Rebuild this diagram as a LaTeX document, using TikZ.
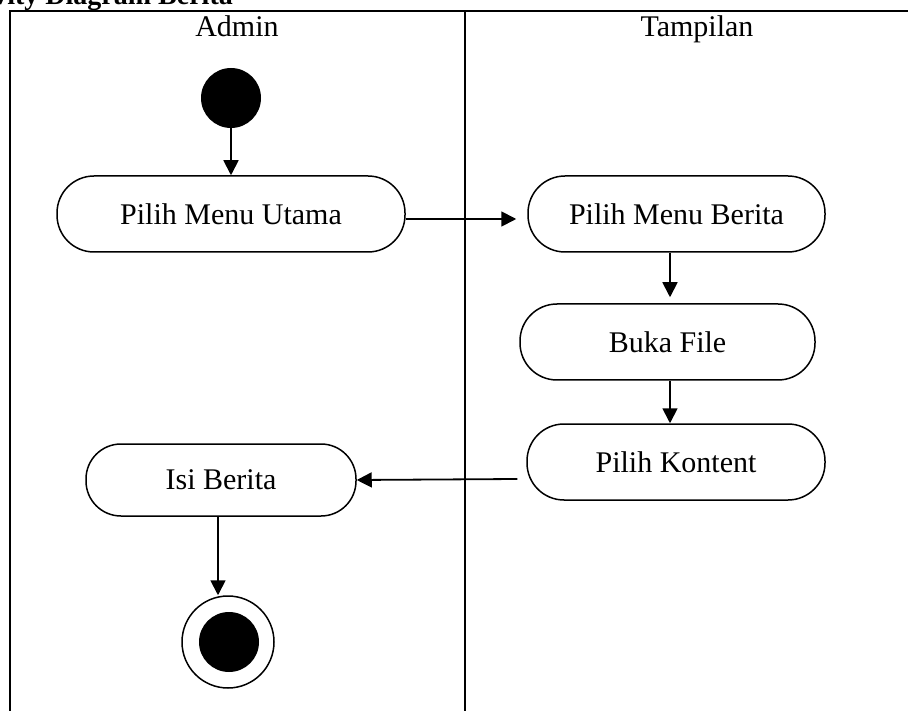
\documentclass[tikz,border=0pt]{standalone}
\usepackage{fontspec}
\setmainfont{Liberation Serif}
\usetikzlibrary{arrows.meta}
\begin{document}
\begin{tikzpicture}[x=1pt,y=-1pt,
  every node/.style={font=\fontsize{30}{36}\selectfont},
  actbox/.style={draw, line width=1.5pt, rounded corners=37pt, minimum height=76pt, inner sep=0pt},
  flow/.style={line width=1.8pt, -{Triangle[length=15pt,width=15pt]}},
  lane/.style={line width=2.2pt}]
\useasboundingbox (0,0) rectangle (908,711);
% title (cropped at the top of the picture, as in the reference)
\node[anchor=base east, inner sep=0pt, font=\fontsize{28}{34}\selectfont\bfseries] (title) at (233,5) {Activity Diagram Berita};
% swimlanes
\draw[lane] (10,711) -- (10,11) -- (908,11);
\draw[lane] (465,11) -- (465,711);
\node[anchor=base, inner sep=0pt] (admin) at (237,37) {Admin};
\node[anchor=base, inner sep=0pt] (tampilan) at (697,37) {Tampilan};
% nodes
\node[circle, fill=black, minimum size=60pt, inner sep=0pt] (start) at (231,98) {};
\node[actbox, minimum width=348pt] (pmu) at (231,214) {Pilih Menu Utama};
\node[actbox, minimum width=297pt] (pmb) at (676.5,214) {Pilih Menu Berita};
\node[actbox, minimum width=295pt] (bf) at (667.5,342) {Buka File};
\node[actbox, minimum width=298pt] (pk) at (676,462) {Pilih Kontent};
\node[actbox, minimum width=270pt, minimum height=72pt, rounded corners=35pt] (ib) at (221,480) {Isi Berita};
\node[circle, draw, line width=1.5pt, minimum size=92pt, inner sep=0pt] (end) at (228,642) {};
\node[circle, fill=black, minimum size=60pt, inner sep=0pt] (endin) at (229,642) {};
% connectors
\draw[flow] (start.south) -- (pmu.north);
\draw[flow] ([yshift=-5pt]pmu.east) -- ([xshift=-11pt,yshift=-5pt]pmb.west);
\draw[flow] ([xshift=-6.5pt]pmb.south) -- ([xshift=2.5pt,yshift=6pt]bf.north);
\draw[flow] ([xshift=2.5pt]bf.south) -- ([xshift=-6pt]pk.north);
\draw[flow] ([xshift=-9pt,yshift=-17pt]pk.west) -- (ib.east);
\draw[flow] ([xshift=-3pt]ib.south) -- ([xshift=-10pt]end.north);
\end{tikzpicture}
\end{document}
